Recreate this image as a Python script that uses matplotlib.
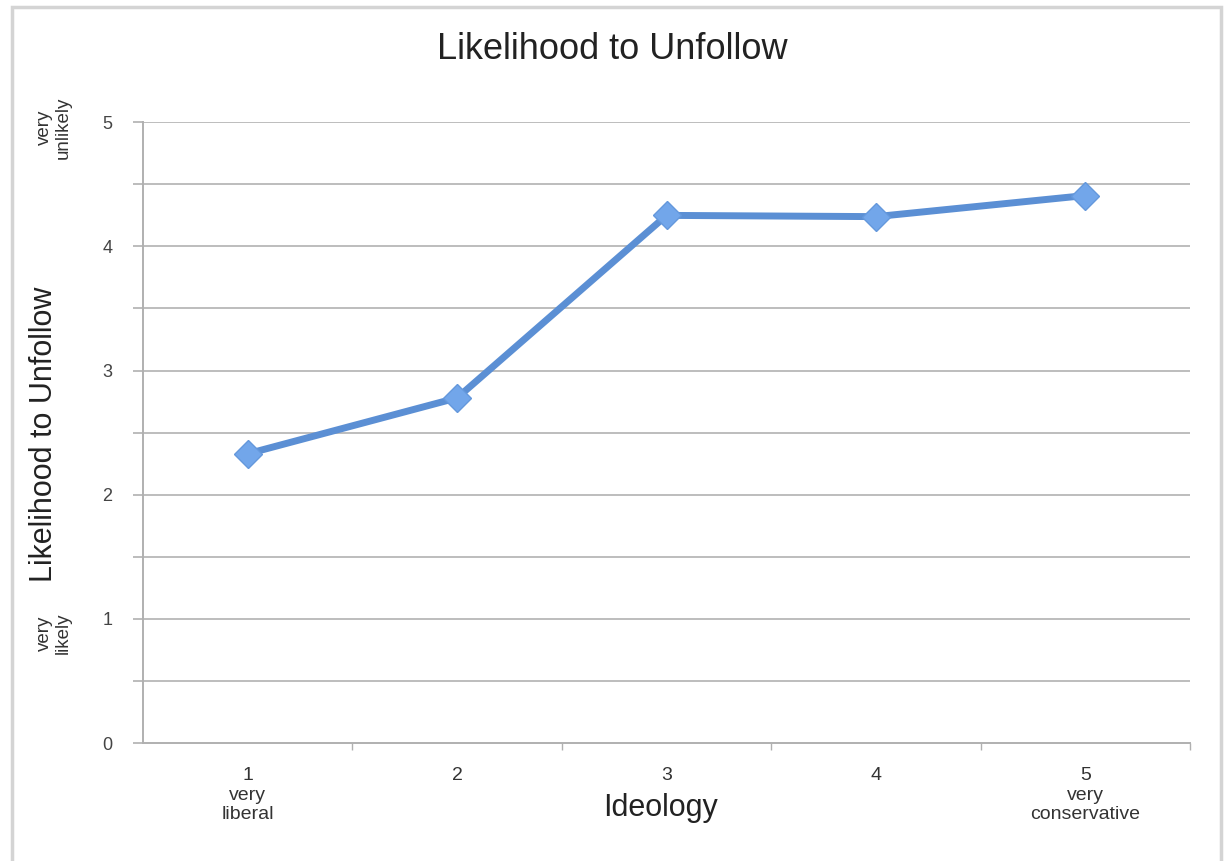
import matplotlib
matplotlib.use("Agg")
import matplotlib.pyplot as plt
from matplotlib.patches import Rectangle

plt.rcParams['font.family'] = ['Liberation Sans', 'DejaVu Sans']

# mean likelihood to unfollow by ideology
ideology = [1, 2, 3, 4, 5]
likelihood = [2.33, 2.78, 4.25, 4.24, 4.41]
xtick_labels = ['1\nvery\nliberal', '2', '3', '4', '5\nvery\nconservative']
yticks = [0, 1, 2, 3, 4, 5]

fig = plt.figure(figsize=(12.27, 8.61), dpi=100)
ax = fig.add_axes([0.1165, 0.137, 0.8535, 0.721])

# outer frame around the chart
fig.patches.append(Rectangle((0.0098, -0.05), 0.985, 1.042, transform=fig.transFigure,
                             fill=False, edgecolor='#d4d4d4', linewidth=2.5))

ax.set_xlim(0.5, 5.5)
ax.set_ylim(0, 5)
for y in [0.5 * i for i in range(1, 11)]:
    ax.axhline(y, color='#bdbdbd', linewidth=1.4, zorder=1)

ax.plot(ideology, likelihood, color='#5b8fd4', linewidth=5, zorder=3,
        marker='D', markersize=14, markerfacecolor='#72a6ea',
        markeredgecolor='#6498dc', markeredgewidth=1)

for s in ['top', 'right']:
    ax.spines[s].set_visible(False)
for s in ['left', 'bottom']:
    ax.spines[s].set_color('#b0b0b0')
    ax.spines[s].set_linewidth(1.4)

ax.set_yticks(yticks)
ax.set_yticklabels([str(v) for v in yticks], fontsize=13, color='#444444')
ax.set_yticks([0.5 * i for i in range(1, 11, 2)], minor=True)
ax.tick_params(axis='y', which='both', length=7, width=1.2, color='#b0b0b0', pad=15)

ax.set_xticks(ideology)
ax.set_xticklabels(xtick_labels, fontsize=14, color='#333333', linespacing=1.22, va='top')
ax.tick_params(axis='x', which='major', length=0, pad=17)
ax.set_xticks([1.5, 2.5, 3.5, 4.5, 5.5], minor=True)
ax.tick_params(axis='x', which='minor', length=5, width=1.0, color='#b0b0b0')

fig.text(0.499, 0.943, 'Likelihood to Unfollow', ha='center', va='center', fontsize=26, color='#222222')
fig.text(0.538, 0.061, 'Ideology', ha='center', va='center', fontsize=22, color='#222222')
fig.text(0.036, 0.495, 'Likelihood to Unfollow', ha='center', va='center', rotation=90,
         fontsize=22, color='#222222')
fig.text(0.044, 0.852, 'very\nunlikely', ha='center', va='center', rotation=90,
         fontsize=13.5, color='#333333', linespacing=1.1)
fig.text(0.044, 0.265, 'very\nlikely', ha='center', va='center', rotation=90,
         fontsize=13.5, color='#333333', linespacing=1.1)

fig.savefig('out.png', dpi=100)
